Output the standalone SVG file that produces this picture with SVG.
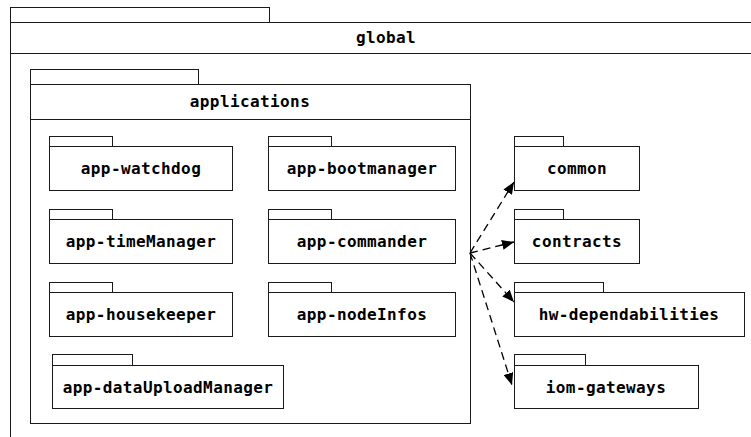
<svg xmlns="http://www.w3.org/2000/svg" width="751" height="437" viewBox="0 0 751 437">
  <style>
    .pkg rect { fill: #ffffff; stroke: #1a1a1a; stroke-width: 1; }
    .pkg line { stroke: #1a1a1a; stroke-width: 1; }
    .lbl { font-family: "DejaVu Sans Mono", "Liberation Mono", monospace; font-weight: bold; font-size: 16px; letter-spacing: 0.4px; fill: #000; text-anchor: middle; }
    .dep { fill: none; stroke: #000; stroke-width: 1.3; stroke-dasharray: 8 5; }
  </style>
  <defs>
    <marker id="tri" viewBox="0 0 12 10" refX="12" refY="5" markerWidth="12" markerHeight="10" markerUnits="userSpaceOnUse" orient="auto">
      <path d="M0,0 L12,5 L0,10 Z" fill="#000"/>
    </marker>
  </defs>
  <rect width="751" height="437" fill="#ffffff"/>

  <!-- outer package -->
  <g id="global" class="pkg">
    <rect x="10.5" y="7.5" width="259" height="15"/>
    <rect x="10.5" y="22.5" width="760" height="430"/>
    <line x1="10.5" y1="53.5" x2="770" y2="53.5"/>
    <text class="lbl" x="386" y="43">global</text>
  </g>

  <!-- applications package -->
  <g id="applications" class="pkg">
    <rect x="30.5" y="69.5" width="168" height="15"/>
    <rect x="30.5" y="84.5" width="440" height="339"/>
    <line x1="30.5" y1="119.5" x2="470.5" y2="119.5"/>
    <text class="lbl" x="250" y="107">applications</text>
  </g>

  <g id="app-watchdog" class="pkg">
    <rect x="49.5" y="136.5" width="63" height="10"/>
    <rect x="49.5" y="146.5" width="183" height="44"/>
    <text class="lbl" x="141" y="174">app-watchdog</text>
  </g>
  <g id="app-bootmanager" class="pkg">
    <rect x="268.5" y="136.5" width="63" height="10"/>
    <rect x="268.5" y="146.5" width="187" height="44"/>
    <text class="lbl" x="362" y="174">app-bootmanager</text>
  </g>
  <g id="app-timeManager" class="pkg">
    <rect x="49.5" y="209.5" width="63" height="10"/>
    <rect x="49.5" y="219.5" width="183" height="44"/>
    <text class="lbl" x="141" y="247">app-timeManager</text>
  </g>
  <g id="app-commander" class="pkg">
    <rect x="268.5" y="209.5" width="63" height="10"/>
    <rect x="268.5" y="219.5" width="187" height="44"/>
    <text class="lbl" x="362" y="247">app-commander</text>
  </g>
  <g id="app-housekeeper" class="pkg">
    <rect x="49.5" y="282.5" width="63" height="10"/>
    <rect x="49.5" y="292.5" width="183" height="44"/>
    <text class="lbl" x="141" y="320">app-housekeeper</text>
  </g>
  <g id="app-nodeInfos" class="pkg">
    <rect x="268.5" y="282.5" width="63" height="10"/>
    <rect x="268.5" y="292.5" width="187" height="44"/>
    <text class="lbl" x="362" y="320">app-nodeInfos</text>
  </g>
  <g id="app-dataUploadManager" class="pkg">
    <rect x="52.5" y="354.5" width="80" height="11"/>
    <rect x="52.5" y="365.5" width="231" height="43"/>
    <text class="lbl" x="168" y="393">app-dataUploadManager</text>
  </g>

  <!-- shared packages -->
  <g id="common" class="pkg">
    <rect x="514.5" y="136.5" width="49" height="10"/>
    <rect x="514.5" y="146.5" width="125" height="44"/>
    <text class="lbl" x="577" y="174">common</text>
  </g>
  <g id="contracts" class="pkg">
    <rect x="514.5" y="209.5" width="49" height="10"/>
    <rect x="514.5" y="219.5" width="125" height="44"/>
    <text class="lbl" x="577" y="247">contracts</text>
  </g>
  <g id="hw-dependabilities" class="pkg">
    <rect x="514.5" y="282.5" width="89" height="10"/>
    <rect x="514.5" y="292.5" width="230" height="44"/>
    <text class="lbl" x="629" y="320">hw-dependabilities</text>
  </g>
  <g id="iom-gateways" class="pkg">
    <rect x="514.5" y="354.5" width="71" height="11"/>
    <rect x="514.5" y="365.5" width="184" height="43"/>
    <text class="lbl" x="606" y="393">iom-gateways</text>
  </g>

  <!-- dependencies -->
  <g id="connectors">
    <line class="dep" x1="470" y1="253" x2="514" y2="182" marker-end="url(#tri)"/>
    <line class="dep" x1="470" y1="253" x2="514" y2="242" marker-end="url(#tri)"/>
    <line class="dep" x1="470" y1="253" x2="514" y2="302" marker-end="url(#tri)"/>
    <line class="dep" x1="470" y1="253" x2="512" y2="385" marker-end="url(#tri)"/>
  </g>
</svg>
